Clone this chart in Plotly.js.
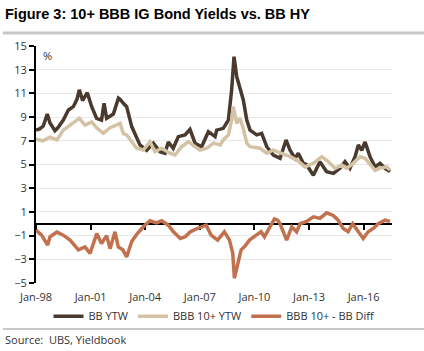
<!DOCTYPE html>
<html>
<head>
<meta charset="utf-8">
<script src="https://cdn.plot.ly/plotly-3.0.1.min.js"></script>
<style>html,body{margin:0;padding:0;background:#fff;}#chart{width:424px;height:351px;}</style>
</head>
<body>
<div id="chart"></div>
<script>
// Decimal-year positions and values
const bbYears = [1998.0,1998.2,1998.4,1998.62,1998.77,1999.04,1999.2,1999.5,1999.78,2000.05,2000.25,2000.38,2000.56,2000.82,2001.06,2001.33,2001.6,2001.74,2001.88,2002.25,2002.53,2002.62,2002.8,2002.98,2003.26,2003.53,2003.71,2004.08,2004.45,2004.81,2005.09,2005.27,2005.54,2005.82,2006.19,2006.46,2006.74,2007.1,2007.47,2007.84,2007.93,2008.29,2008.57,2008.75,2008.88,2009.03,2009.21,2009.39,2009.58,2009.76,2010.13,2010.4,2010.68,2011.04,2011.41,2011.74,2011.96,2012.23,2012.41,2012.69,2012.85,2013.24,2013.6,2013.97,2014.34,2014.7,2014.98,2015.25,2015.53,2015.71,2015.9,2016.08,2016.35,2016.63,2016.9,2017.18,2017.45];
const bbYTW   = [7.9,8.0,8.25,9.26,8.5,7.85,8.1,8.75,9.6,9.88,10.5,11.3,10.4,11.06,9.88,8.9,8.75,10.16,8.9,9.26,10.6,10.5,10.16,9.88,8.2,7.35,6.65,6.2,6.8,6.08,5.95,6.9,6.37,7.35,7.5,7.97,6.8,6.5,7.77,7.35,7.9,8.05,8.75,11.3,14.1,12.4,11.4,10.45,8.75,7.9,7.5,7.63,6.5,5.8,5.52,7.07,6.2,5.52,5.95,5.1,5.0,4.1,5.24,4.4,4.25,4.68,5.24,4.68,5.66,6.65,6.2,6.9,5.66,4.8,5.1,4.68,4.4];

const bbbYears = [1998.0,1998.37,1998.77,1999.15,1999.5,1999.87,2000.38,2000.69,2001.06,2001.33,2001.7,2002.07,2002.52,2002.62,2002.8,2002.98,2003.26,2003.53,2003.9,2004.26,2004.54,2004.9,2005.36,2005.64,2006.0,2006.37,2006.74,2007.01,2007.38,2007.75,2008.12,2008.29,2008.57,2008.75,2008.84,2009.03,2009.21,2009.39,2009.58,2009.76,2010.31,2010.68,2011.04,2011.5,2011.96,2012.33,2012.78,2013.24,2013.7,2014.06,2014.43,2014.8,2015.07,2015.43,2015.8,2016.08,2016.35,2016.63,2016.9,2017.27,2017.45];
const bbb10YTW = [7.13,7.0,7.3,7.07,7.9,8.33,8.9,8.33,8.6,8.1,7.63,8.1,8.47,8.47,7.6,7.5,6.93,6.37,6.22,6.93,6.08,6.37,5.95,5.8,6.5,6.93,6.5,6.22,6.37,6.8,6.65,7.07,7.5,8.75,9.88,8.47,8.9,8.05,6.8,6.5,6.37,5.95,6.22,5.95,5.66,5.38,4.8,5.1,5.66,5.24,4.68,4.96,4.68,5.1,5.66,5.52,4.96,4.5,4.7,4.8,4.54];

const diffYears = [1998.0,1998.31,1998.64,1998.77,1999.15,1999.5,1999.87,2000.33,2000.69,2000.97,2001.34,2001.6,2001.88,2002.07,2002.34,2002.52,2002.77,2002.98,2003.26,2003.53,2003.9,2004.26,2004.62,2004.9,2005.27,2005.55,2005.93,2006.2,2006.48,2006.85,2007.35,2007.62,2007.98,2008.35,2008.63,2008.81,2008.9,2009.08,2009.27,2009.45,2009.73,2010.1,2010.37,2010.55,2010.82,2011.1,2011.28,2011.41,2011.77,2012.05,2012.32,2012.51,2012.87,2013.24,2013.6,2013.97,2014.33,2014.6,2014.88,2015.15,2015.4,2015.7,2015.98,2016.25,2016.53,2016.8,2017.18,2017.45];
const bbbBBDiff = [-0.54,-0.96,-1.8,-1.1,-0.7,-0.96,-1.38,-2.2,-1.95,-2.5,-0.82,-1.66,-1.0,-2.1,-0.68,-1.95,-2.2,-2.8,-1.5,-0.9,-0.26,0.25,0.08,0.25,-0.12,-0.68,-1.24,-1.1,-0.68,-0.4,-0.12,-0.96,-1.38,-0.68,-1.38,-2.5,-4.6,-3.35,-2.2,-1.95,-1.38,-0.96,-0.68,-1.1,-0.4,0.4,0.3,0.0,-1.38,-0.26,-0.68,0.0,0.2,0.58,0.45,0.92,0.7,0.3,-0.4,-0.68,0.0,-0.68,-1.24,-0.68,-0.4,0.0,0.3,0.2];

const tickYears = [1998,2001,2004,2007,2010,2013,2016];
const tickLabels = ['Jan-98','Jan-01','Jan-04','Jan-07','Jan-10','Jan-13','Jan-16'];
const seriesNames = ['BB YTW','BBB 10+ YTW','BBB 10+ - BB Diff'];

const FONT = 'Open Sans, Liberation Sans, sans-serif';
const traces = [
  {x: bbYears, y: bbYTW, name: seriesNames[0], type: 'scatter', mode: 'lines',
   line: {color: '#4a3a2e', width: 3.5}},
  {x: bbbYears, y: bbb10YTW, name: seriesNames[1], type: 'scatter', mode: 'lines',
   line: {color: '#d3c2a3', width: 3.5}},
  {x: diffYears, y: bbbBBDiff, name: seriesNames[2], type: 'scatter', mode: 'lines', xaxis: 'x2',
   line: {color: '#c2714f', width: 3.5}}
];

const layout = {
  width: 424, height: 351,
  margin: {l: 36, r: 32, t: 46, b: 68},
  paper_bgcolor: '#fff', plot_bgcolor: '#fff',
  font: {family: FONT, size: 11, color: '#333'},
  showlegend: true,
  legend: {orientation: 'h', x: 0.5, xanchor: 'center', y: -0.14, yanchor: 'middle',
           bgcolor: 'rgba(0,0,0,0)', font: {size: 11, color: '#333'}, itemwidth: 30, tracegroupgap: 0},
  xaxis: {range: [1998, 2017.56], tickvals: tickYears, ticktext: tickLabels,
          showgrid: false, zeroline: false, showline: false, ticks: '',
          ticklabelstandoff: 6, tickfont: {size: 11, color: '#333'}},
  xaxis2: {matches: 'x', overlaying: 'x', anchor: 'free', position: 0.25,
           tickvals: tickYears, showticklabels: false, showgrid: false, zeroline: false,
           showline: true, linecolor: '#000', linewidth: 2,
           ticks: 'outside', ticklen: 5, tickwidth: 2, tickcolor: '#000', layer: 'below traces'},
  yaxis: {range: [-5, 15], tick0: -5, dtick: 2, showgrid: true, gridcolor: '#e8e8e8', gridwidth: 1,
          zeroline: false, showline: true, linecolor: '#000', linewidth: 2,
          ticks: 'outside', ticklen: 5, tickwidth: 2, tickcolor: '#000',
          tickfont: {size: 11, color: '#333'}},
  shapes: [
    {type: 'line', xref: 'paper', yref: 'paper', x0: -0.093, x1: 1.1, y0: 1.055, y1: 1.055,
     line: {color: '#c8c8c8', width: 3}},
    {type: 'line', xref: 'paper', yref: 'paper', x0: -0.093, x1: 1.1, y0: -0.194, y1: -0.194,
     line: {color: '#c8c8c8', width: 2}}
  ],
  annotations: [
    {text: '<b>Figure 3: 10+ BBB IG Bond Yields vs. BB HY</b>', xref: 'paper', yref: 'paper',
     x: -0.093, y: 1.135, xanchor: 'left', yanchor: 'middle', showarrow: false,
     font: {family: 'Liberation Sans, Arial, sans-serif', size: 14.5, color: '#000'}},
    {text: '%', xref: 'paper', yref: 'paper', x: 0.014, y: 0.962, xanchor: 'left', yanchor: 'middle',
     showarrow: false, font: {size: 11, color: '#333'}},
    {text: 'Source:  UBS, Yieldbook', xref: 'paper', yref: 'paper', x: -0.093, y: -0.24,
     xanchor: 'left', yanchor: 'middle', showarrow: false, font: {size: 11, color: '#333'}}
  ]
};

Plotly.newPlot('chart', traces, layout, {staticPlot: true, displayModeBar: false});
</script>
</body>
</html>
